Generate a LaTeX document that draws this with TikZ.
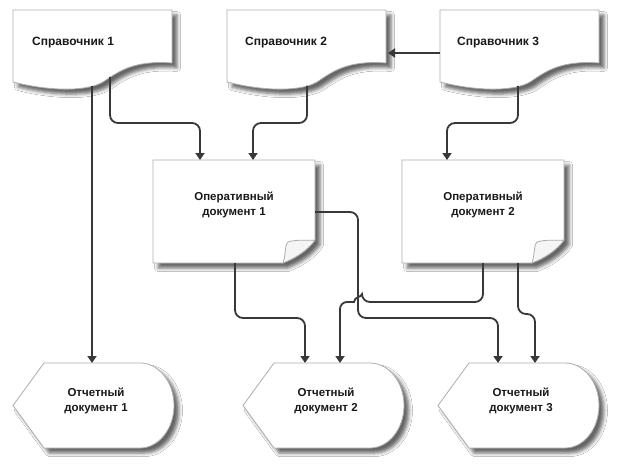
\documentclass[tikz,border=0pt]{standalone}
\usepackage{fontspec}
\setmainfont{Liberation Sans}
\usetikzlibrary{arrows.meta,shadows.blur,calc}
\begin{document}
\begin{tikzpicture}[x=1pt,y=-1pt,
  shp/.style={draw=black!32, line width=0.8pt, fill=white,
    blur shadow={shadow xshift=5pt, shadow yshift=-5pt, shadow blur radius=3.5pt, shadow opacity=60}},
  flap/.style={draw=black!32, line width=0.8pt, fill=black!4},
  conn/.style={draw=black!78, line width=1.8pt, rounded corners=8pt, -{Triangle[width=9pt,length=7pt]}},
  box/.style={draw=none, inner sep=0pt, anchor=north west},
  sprtxt/.style={font=\bfseries\fontsize{12}{14}\selectfont, text=black!90, inner sep=0pt, anchor=west},
  doctxt/.style={font=\bfseries\fontsize{11.5}{15.5}\selectfont, text=black!90, inner sep=0pt, align=center}
]
\useasboundingbox (0,0) rectangle (617,465);
\fill[white] (0,0) rectangle (617,465);

% ---- Справочник shapes (document)
\foreach \x in {13,227,440}{
  \draw[shp] (\x,10) -- ++(159,0) -- ++(0,53)
    .. controls ++(-39,-3) and ++(15,-10) .. ++(-69,19)
    .. controls ++(-15,9) and ++(40,10) .. ++(-90,0) -- cycle;
}
\node[box, minimum width=159pt, minimum height=77pt] (spr1) at (13,10) {};
\node[box, minimum width=159pt, minimum height=77pt] (spr2) at (227,10) {};
\node[box, minimum width=159pt, minimum height=77pt] (spr3) at (440,10) {};
\node[sprtxt] (spr1t) at (32,43) {Справочник 1};
\node[sprtxt] (spr2t) at (245,43) {Справочник 2};
\node[sprtxt] (spr3t) at (457,43) {Справочник 3};

% ---- Оперативный shapes (note with folded corner)
\foreach \x in {153,402}{
  \draw[shp] (\x,160) -- ++(162,0) -- ++(0,80)
    .. controls ++(-7,10) and ++(13,-5) .. ++(-32,23) -- ++(-130,0) -- cycle;
  \draw[flap] (\x+130,263) .. controls ++(3,-9) and ++(-3,1) .. ++(5,-21)
    .. controls ++(9,-3) and ++(-7,1) .. ++(27,-2)
    .. controls ++(-7,10) and ++(13,-5) .. cycle;
}
\node[box, minimum width=162pt, minimum height=103pt] (op1) at (153,160) {};
\node[box, minimum width=162pt, minimum height=103pt] (op2) at (402,160) {};
\node[doctxt] (op1t) at (234,205) {Оперативный\\документ 1};
\node[doctxt] (op2t) at (483,205) {Оперативный\\документ 2};

% ---- Отчетный shapes (display)
\foreach \x in {13,243,438}{
  \draw[shp] (\x,405.5) -- ++(31,-42.5) -- ++(96,0)
    .. controls ++(19,0) and ++(0,-23) .. ++(34,42.5)
    .. controls ++(0,23) and ++(19,0) .. ++(-34,42.5)
    -- ++(-96,0) -- cycle;
}
\node[box, minimum width=161pt, minimum height=85pt] (ot1) at (13,363) {};
\node[box, minimum width=161pt, minimum height=85pt] (ot2) at (243,363) {};
\node[box, minimum width=161pt, minimum height=85pt] (ot3) at (438,363) {};
\node[doctxt] (ot1t) at (96,401) {Отчетный\\документ 1};
\node[doctxt] (ot2t) at (326,401) {Отчетный\\документ 2};
\node[doctxt] (ot3t) at (521,401) {Отчетный\\документ 3};

% ---- connection points
\coordinate (s1a) at (92,86);
\coordinate (s1b) at (110,77);
\coordinate (s2a) at (307,86);
\coordinate (s3a) at (518,86);
\coordinate (s3w) at (440,53);
\coordinate (s2e) at (388,53);
\coordinate (o1b) at (235,263);
\coordinate (o1e) at (315,212);
\coordinate (o2a) at (483,263);
\coordinate (o2b) at (518,263);

% ---- connectors
\draw[conn] (s1a) -- (s1a |- ot1.north);
\draw[conn] (s1b) -- (110,123) -- (200,123) -- (200,123 |- op1.north);
\draw[conn] (s2a) -- (307,123) -- (253,123) -- (253,123 |- op1.north);
\draw[conn] (s3a) -- (518,123) -- (447,123) -- (447,123 |- op2.north);
\draw[conn] (s3w) -- (s2e);
\draw[conn] (o1b) -- (235,318) -- (305,318) -- (305,318 |- ot2.north);
\draw[conn] (o1e) -- (358,212) -- (358,318) -- (498,318) -- (498,318 |- ot3.north);
\draw[conn] (o2a) -- (483,302) -- (362,302) [sharp corners]
   .. controls (362,297) and (354,297) .. (354,302) [rounded corners=7pt]
   -- (340,302) -- (340,302 |- ot2.north);
\draw[conn] (o2b) -- (518,314) -- (535,314) -- (535,314 |- ot3.north);
\end{tikzpicture}
\end{document}
